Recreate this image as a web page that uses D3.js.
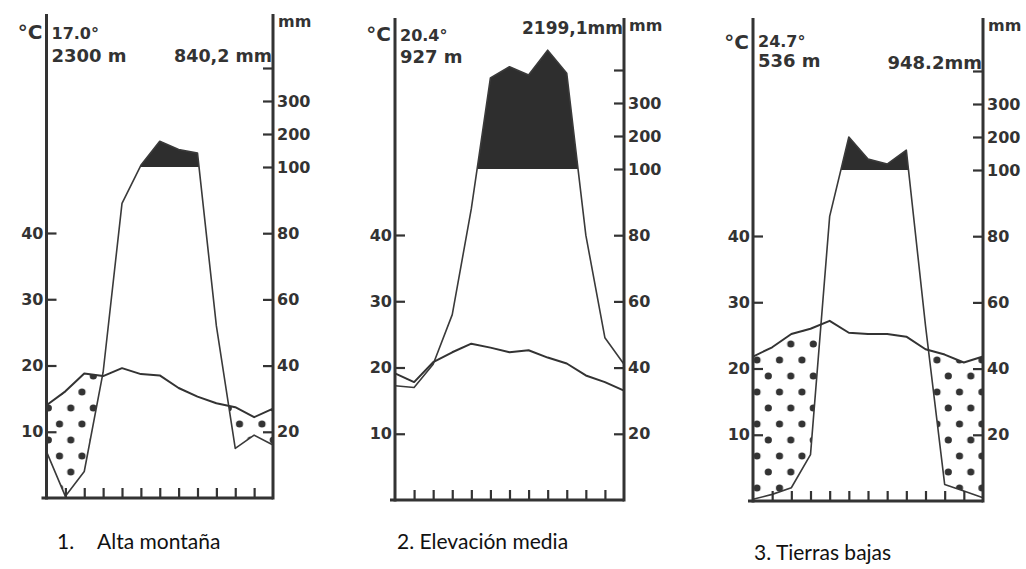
<!DOCTYPE html>
<html>
<head>
<meta charset="utf-8">
<script src="https://cdn.jsdelivr.net/npm/d3@7"></script>
<style>
    body { margin: 0; background: #fff; }
    svg text { font-family: "DejaVu Sans", Arial, sans-serif; font-weight: bold; fill: #333; }
    svg text.caption { font-family: Lato, "Open Sans", sans-serif; font-weight: normal; font-size: 21px; fill: #111; }
</style>
</head>
<body>
<div id="chart"></div>
<script>
// Values: 13 points per diagram (month ticks incl. both ends)
const tempTicks = [10, 20, 30, 40];
const precipTicks = [20, 40, 60, 80, 100, 200, 300, 400];
const precipTickLabels = ['20', '40', '60', '80', '100', '200', '300', ''];

const tempAlta = [14.0, 16.1, 18.8, 18.4, 19.6, 18.7, 18.5, 16.6, 15.3, 14.3, 13.7, 12.2, 13.5];
const precipAlta = [14, 0.5, 8, 38, 89, 105, 178, 153, 142, 52, 15, 19, 16];

const tempMedia = [19.1, 17.8, 20.8, 22.3, 23.6, 23.0, 22.3, 22.6, 21.5, 20.6, 18.8, 17.8, 16.5];
const precipMedia = [34.5, 34, 41, 56, 88, 376, 410, 385, 460, 390, 80, 49, 41];

const tempBajas = [21.8, 23.2, 25.2, 26.0, 27.2, 25.4, 25.2, 25.2, 24.8, 22.9, 22.1, 20.9, 21.8];
const precipBajas = [0.5, 2, 4, 14, 86, 200, 133, 118, 160, 53, 5, 3, 1];

const meanTemps = ['17.0°', '20.4°', '24.7°'];
const altitudes = ['2300 m', '927 m', '536 m'];
const annualPrecip = ['840,2 mm', '2199,1mm', '948.2mm'];
const captions = [['1.', 'Alta montaña'], ['2. Elevación media'], ['3. Tierras bajas']];

// panel frames (pixels)
const frames = [
    { left: 46.5, right: 273, top: 14, bottom: 498, capX: [57, 97], capY: 549, head: [39, 39, 62, 62], pSize: 17.5 },
    { left: 395, right: 624, top: 18, bottom: 500, capX: [397], capY: 549, head: [41, 41, 63, 34], pSize: 17 },
    { left: 753, right: 983, top: 18, bottom: 501, capX: [754], capY: 560, head: [49, 47, 67, 69], pSize: 18 },
];

const series = [
    { temp: tempAlta, precip: precipAlta },
    { temp: tempMedia, precip: precipMedia },
    { temp: tempBajas, precip: precipBajas },
];

const width = 1026, height = 569;
const svg = d3.select('#chart').append('svg')
    .attr('width', width)
    .attr('height', height);

const defs = svg.append('defs');
const pat = defs.append('pattern')
    .attr('id', 'dots')
    .attr('patternUnits', 'userSpaceOnUse')
    .attr('x', 751.4).attr('y', 352)
    .attr('width', 22.5).attr('height', 32);
pat.append('circle').attr('cx', 5.6).attr('cy', 8).attr('r', 3.6).attr('fill', '#333');
pat.append('circle').attr('cx', 16.9).attr('cy', 24).attr('r', 3.6).attr('fill', '#333');

const ink = '#333';

frames.forEach((f, k) => {
    const temp = series[k].temp, precip = series[k].precip;
    const idx = d3.range(temp.length);

    const x = d3.scaleLinear().domain([0, 12]).range([f.left, f.right]);
    const yT = d3.scaleLinear().domain([0, 40]).range([f.bottom, f.bottom - 265]);
    const yP = d3.scaleLinear().domain([0, 100, 400]).range([f.bottom, f.bottom - 331, f.bottom - 430]);

    const g = svg.append('g');

    // clip regions
    defs.append('clipPath').attr('id', 'belowT' + k)
        .append('path')
        .attr('d', d3.area().x(i => x(i)).y0(f.bottom + 5).y1(i => yT(temp[i]))(idx));
    defs.append('clipPath').attr('id', 'aboveP' + k)
        .append('path')
        .attr('d', d3.area().x(i => x(i)).y0(0).y1(i => yP(precip[i]))(idx));
    defs.append('clipPath').attr('id', 'over100' + k)
        .append('rect')
        .attr('x', f.left).attr('y', 0)
        .attr('width', f.right - f.left).attr('height', yP(100));

    // dry season: dotted
    g.append('g').attr('clip-path', 'url(#belowT' + k + ')')
        .append('rect')
        .attr('clip-path', 'url(#aboveP' + k + ')')
        .attr('x', f.left).attr('y', 0)
        .attr('width', f.right - f.left).attr('height', f.bottom)
        .attr('fill', 'url(#dots)');

    // very humid (> 100 mm): solid
    g.append('path')
        .attr('clip-path', 'url(#over100' + k + ')')
        .attr('d', d3.area().x(i => x(i)).y0(f.bottom).y1(i => yP(precip[i]))(idx))
        .attr('fill', '#2e2e2e');

    g.append('path')
        .attr('d', d3.line().x(i => x(i)).y(i => yP(precip[i]))(idx))
        .attr('fill', 'none').attr('stroke', '#3a3a3a').attr('stroke-width', 1.6)
        .attr('stroke-linejoin', 'round');

    g.append('path')
        .attr('d', d3.line().x(i => x(i)).y(i => yT(temp[i]))(idx))
        .attr('fill', 'none').attr('stroke', '#333').attr('stroke-width', 2)
        .attr('stroke-linejoin', 'round');

    // axes
    const tAxis = g.append('g')
        .attr('transform', 'translate(' + f.left + ',0)')
        .call(d3.axisLeft(yT).tickValues(tempTicks).tickSizeInner(-10).tickSizeOuter(0).tickPadding(3));
    const pAxis = g.append('g')
        .attr('transform', 'translate(' + f.right + ',0)')
        .call(d3.axisRight(yP).tickValues(precipTicks).tickFormat((d, i) => precipTickLabels[i])
            .tickSizeInner(-10).tickSizeOuter(0).tickPadding(4));
    const mAxis = g.append('g')
        .attr('transform', 'translate(0,' + f.bottom + ')')
        .call(d3.axisTop(x).tickValues(d3.range(1, 12)).tickFormat('').tickSizeInner(10).tickSizeOuter(0));

    [tAxis, pAxis, mAxis].forEach(a => {
        a.select('.domain').remove();
        a.selectAll('line').attr('stroke', ink).attr('stroke-width', 2.2);
        a.selectAll('text')
            .style('font-family', '"DejaVu Sans", sans-serif')
            .style('font-size', '16px').style('font-weight', 'bold').attr('fill', '#3d3d3d');
    });

    // frame lines
    g.append('line').attr('x1', f.left).attr('x2', f.left).attr('y1', f.top).attr('y2', f.bottom + 1.5)
        .attr('stroke', ink).attr('stroke-width', 3);
    g.append('line').attr('x1', f.right).attr('x2', f.right).attr('y1', f.top).attr('y2', f.bottom + 1.5)
        .attr('stroke', ink).attr('stroke-width', 3);
    g.append('line').attr('x1', f.left - 5).attr('x2', f.right).attr('y1', f.bottom).attr('y2', f.bottom)
        .attr('stroke', ink).attr('stroke-width', 3);

    // headers
    g.append('text').attr('x', f.left - 4).attr('y', f.head[0]).attr('text-anchor', 'end')
        .style('font-size', '20px').text('°C');
    g.append('text').attr('x', f.left + 5).attr('y', f.head[1])
        .style('font-size', '16px').text(meanTemps[k]);
    g.append('text').attr('x', f.left + 5).attr('y', f.head[2])
        .style('font-size', '18px').text(altitudes[k]);
    g.append('text').attr('x', f.right - 1).attr('y', f.head[3]).attr('text-anchor', 'end')
        .style('font-size', f.pSize + 'px').text(annualPrecip[k]);
    g.append('text').attr('x', f.right + 5).attr('y', f.top + 13)
        .style('font-size', '16px').text('mm');

    // caption
    captions[k].forEach((c, j) => {
        svg.append('text').attr('class', 'caption').attr('x', f.capX[j]).attr('y', f.capY).text(c);
    });
});
</script>
</body>
</html>
